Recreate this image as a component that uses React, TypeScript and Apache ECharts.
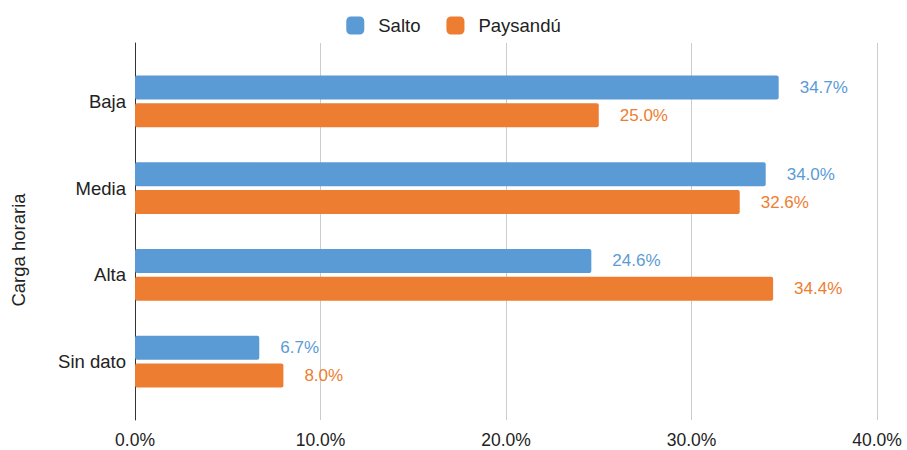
import React, { useEffect, useRef } from "react";
import * as echarts from "echarts";

const categories = ["Baja", "Media", "Alta", "Sin dato"];
const salto = [34.7, 34.0, 24.6, 6.7];
const paysandu = [25.0, 32.6, 34.4, 8.0];
const seriesNames = ["Salto", "Paysandú"];
const colors = ["#5B9BD5", "#ED7D31"];
const axisTitle = "Carga horaria";

const FONT = "Arial, 'Liberation Sans', sans-serif";

export default function App() {
  const ref = useRef<HTMLDivElement>(null);
  useEffect(() => {
    document.body.style.margin = "0";
    if (!ref.current) return;
    const chart = echarts.init(ref.current, undefined, { renderer: "svg" });
    const label = (color: string) => ({
      show: true,
      position: "right",
      distance: 21,
      color,
      fontSize: 17,
      fontFamily: FONT,
      formatter: (p: any) => Number(p.value).toFixed(1) + "%",
    });
    chart.setOption({
      animation: false,
      textStyle: { fontFamily: FONT },
      legend: {
        top: 11,
        left: "center",
        itemWidth: 18,
        itemHeight: 18,
        itemGap: 26,
        icon: "roundRect",
        textStyle: { fontSize: 18.5, color: "#222", fontFamily: FONT, padding: [0, 0, 0, 9] },
        data: seriesNames,
      },
      grid: [
        { left: 135, right: 30, top: 43, height: 377 },
        { left: 135, right: 30, top: 58, height: 347 },
      ],
      xAxis: [
        {
          gridIndex: 0,
          type: "value",
          min: 0,
          max: 40,
          interval: 10,
          axisLine: { show: false },
          axisTick: { show: false },
          splitLine: { show: true, lineStyle: { color: "#cccccc", width: 1 } },
          axisLabel: {
            color: "#222",
            fontSize: 17.5,
            fontFamily: FONT,
            margin: 11,
            formatter: (v: number) => v.toFixed(1) + "%",
          },
        },
        {
          gridIndex: 1,
          type: "value",
          min: 0,
          max: 40,
          show: false,
        },
      ],
      yAxis: [
        {
          gridIndex: 0,
          type: "value",
          axisLine: { show: true, lineStyle: { color: "#333", width: 1 } },
          axisTick: { show: false },
          axisLabel: { show: false },
          splitLine: { show: false },
        },
        {
          gridIndex: 1,
          type: "category",
          inverse: true,
          data: categories,
          axisLine: { show: false },
          axisTick: { show: false },
          axisLabel: { color: "#222", fontSize: 18.5, fontFamily: FONT, margin: 9 },
        },
      ],
      graphic: [
        {
          type: "text",
          x: 18,
          y: 250,
          rotation: Math.PI / 2,
          style: {
            text: axisTitle,
            fill: "#222",
            font: `18.5px ${FONT}`,
            align: "center",
            verticalAlign: "middle",
          },
        },
      ],
      series: [
        {
          name: seriesNames[0],
          type: "bar",
          xAxisIndex: 1,
          yAxisIndex: 1,
          data: salto,
          barWidth: 24,
          barGap: "16%",
          itemStyle: { color: colors[0], borderRadius: 2 },
          label: label(colors[0]),
        },
        {
          name: seriesNames[1],
          type: "bar",
          xAxisIndex: 1,
          yAxisIndex: 1,
          data: paysandu,
          barWidth: 24,
          barGap: "16%",
          itemStyle: { color: colors[1], borderRadius: 2 },
          label: label(colors[1]),
        },
      ],
    });
    return () => chart.dispose();
  }, []);
  return <div ref={ref} style={{ width: 907, height: 450 }} />;
}
